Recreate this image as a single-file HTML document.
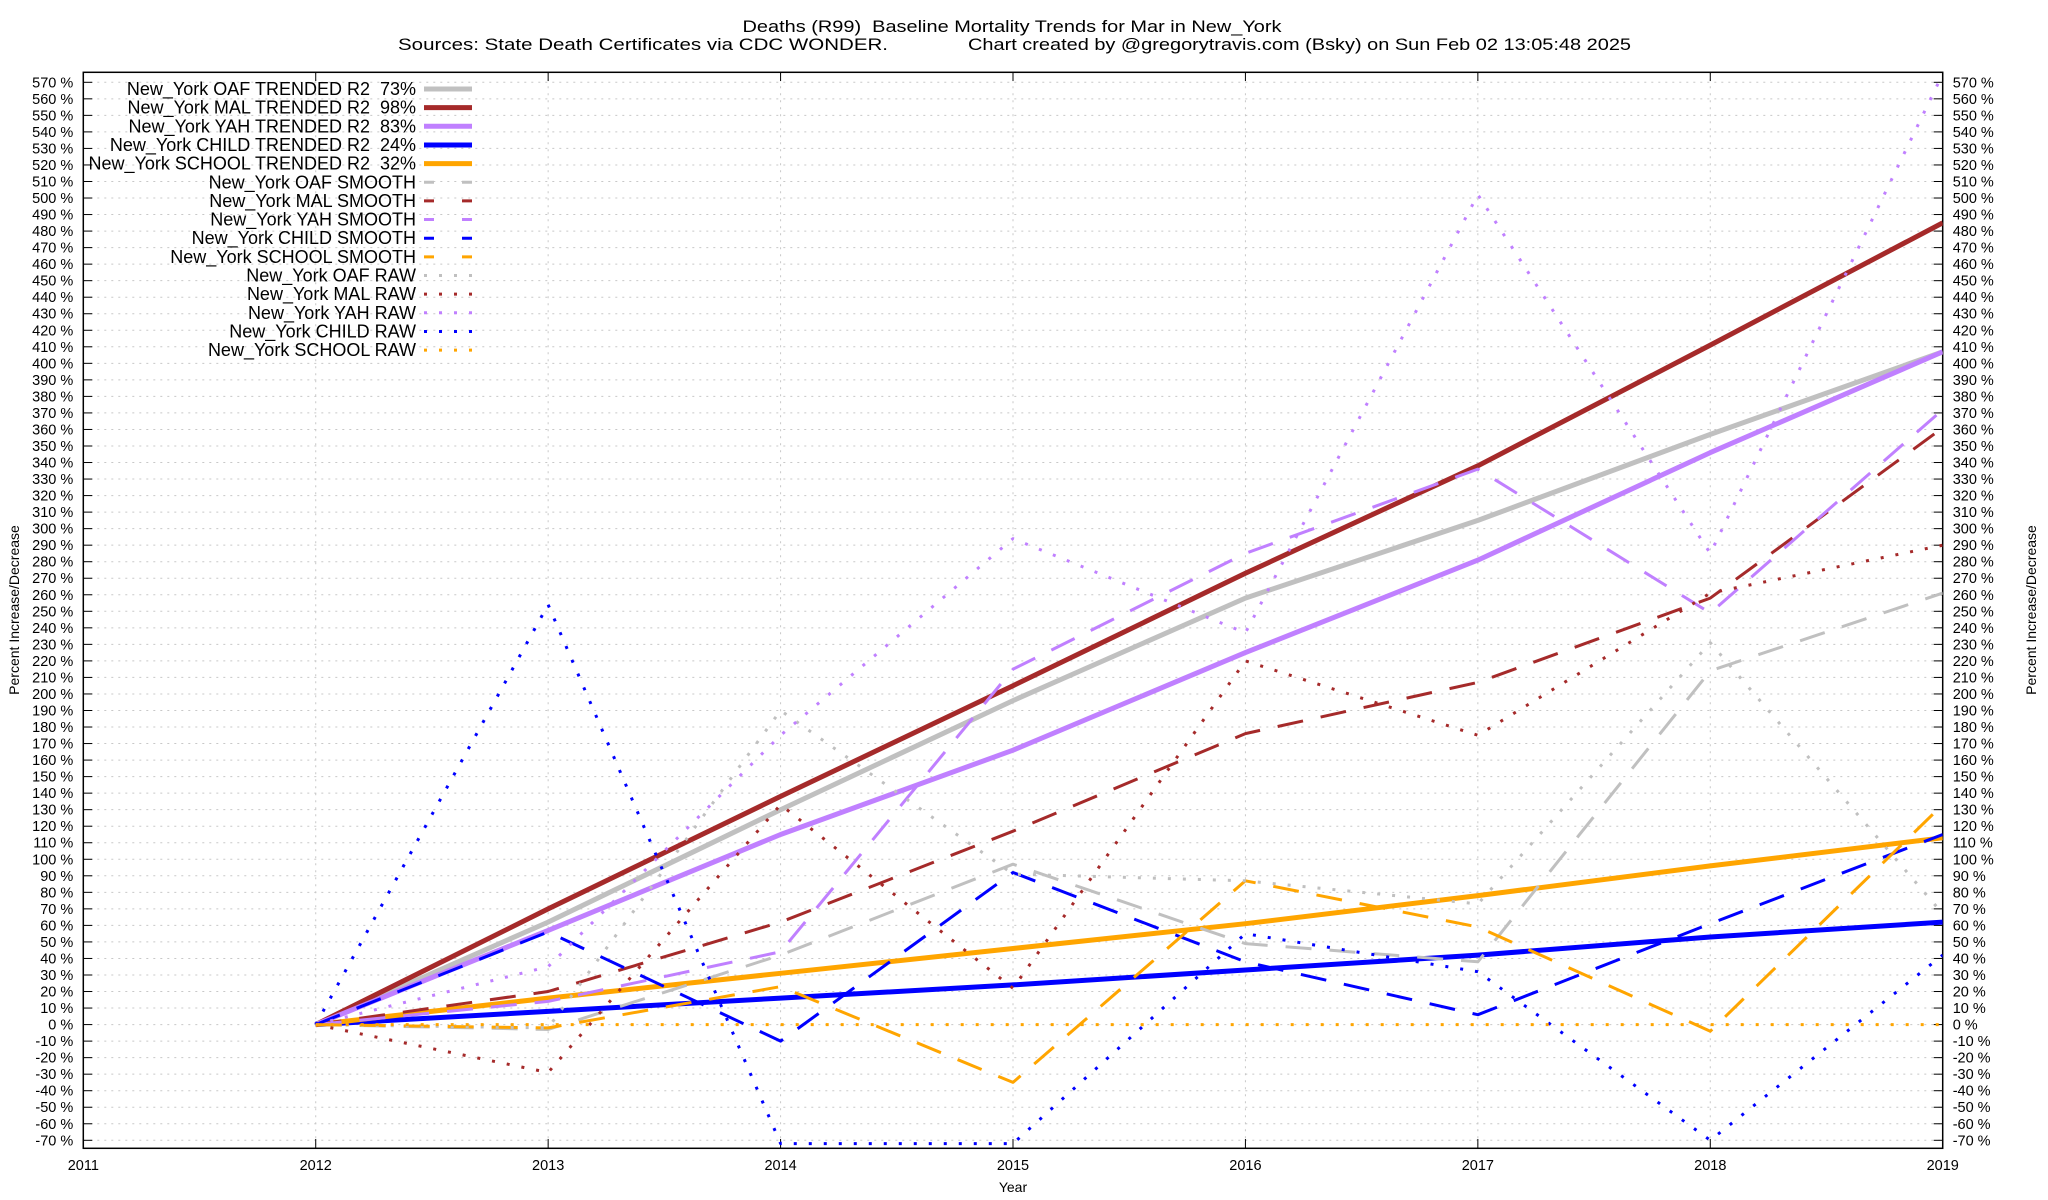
<!DOCTYPE html>
<html><head><meta charset="utf-8"><style>
html,body{margin:0;padding:0;background:#fff}
svg{display:block;font-family:"Liberation Sans",Arial,sans-serif}
</style></head><body>
<svg id="chart" width="2048" height="1200" viewBox="0 0 2048 1200" xmlns="http://www.w3.org/2000/svg">
<defs><clipPath id="plotclip"><rect x="83.3" y="72.3" width="1859.4" height="1076"/></clipPath></defs>
<text x="1012" y="32" font-size="17" text-anchor="middle" textLength="539" lengthAdjust="spacingAndGlyphs">Deaths (R99)&#160; Baseline Mortality Trends for Mar in New_York</text>
<text x="398" y="50" font-size="17" textLength="490" lengthAdjust="spacingAndGlyphs">Sources: State Death Certificates via CDC WONDER.</text>
<text x="968" y="50" font-size="17" textLength="663" lengthAdjust="spacingAndGlyphs">Chart created by @gregorytravis.com (Bsky) on Sun Feb 02 13:05:48 2025</text>
<g id="grid"></g>
<g id="axes"></g>
<g id="series" clip-path="url(#plotclip)"></g>
<g id="legend"></g>
<text x="1013" y="1192" font-size="14" text-anchor="middle">Year</text>
<text x="0" y="0" font-size="14" text-anchor="middle" transform="translate(19,610) rotate(-90)">Percent Increase/Decrease</text>
<text x="0" y="0" font-size="14" text-anchor="middle" transform="translate(2036,610) rotate(-90)">Percent Increase/Decrease</text>
</svg>
<script>
const years = [2012,2013,2014,2015,2016,2017,2018,2019];
const xTicks = [2011,2012,2013,2014,2015,2016,2017,2018,2019];
const yTicks = [-70,-60,-50,-40,-30,-20,-10,0,10,20,30,40,50,60,70,80,90,100,110,120,130,140,150,160,170,180,190,200,210,220,230,240,250,260,270,280,290,300,310,320,330,340,350,360,370,380,390,400,410,420,430,440,450,460,470,480,490,500,510,520,530,540,550,560,570];
const oafTrend = [0,62,130,196,258,305,357,407];
const malTrend = [0,70,138,205,273,338,411,485];
const yahTrend = [0,57,115,166,225,281,346,407];
const childTrend = [0,8,16,24,33,42,53,62];
const schoolTrend = [0,16,31,46,61,78,96,113];
const oafSmooth = [0,-3,42,97,49,38,214,261];
const malSmooth = [0,20,62,117,176,207,258,361];
const yahSmooth = [0,14,44,215,285,336,249,372];
const childSmooth = [0,56,-10,92,38,6,61,115];
const schoolSmooth = [0,-2,23,-35,87,59,-4,133];
const oafRaw = [0,-2,190,91,87,73,231,67];
const malRaw = [0,-29,133,22,220,175,261,290];
const yahRaw = [0,35,175,294,237,502,285,575];
const childRaw = [0,254,-72,-72,55,32,-70,42];
const schoolRaw = [0,0,0,0,0,0,0,0];

const X0=83.3,X1=1942.7,Y570=82.3,YM70=1140.3;
function xs(v){return X0+(v-2011)*(X1-X0)/8;}
function ys(v){return YM70-(v+70)*(YM70-Y570)/640;}
const NS='http://www.w3.org/2000/svg';
function mk(tag,attrs,parent){const e=document.createElementNS(NS,tag);for(const k in attrs)e.setAttribute(k,attrs[k]);parent.appendChild(e);return e;}
const grid=document.getElementById('grid'),axes=document.getElementById('axes'),ser=document.getElementById('series'),leg=document.getElementById('legend');

yTicks.forEach(v=>{
  const y=ys(v);
  const g=mk('line',{x1:X0,x2:X1,y1:y,y2:y,stroke:'#c8c8c8','stroke-width':1,'stroke-dasharray':'2 5'},grid);
  
  
  mk('line',{x1:X0,x2:X0+9,y1:y,y2:y,stroke:'#000','stroke-width':1},axes);
  mk('line',{x1:X1-9,x2:X1,y1:y,y2:y,stroke:'#000','stroke-width':1},axes);
  const t=mk('text',{x:X0-10,y:y+5,'font-size':14.5,'text-anchor':'end'},axes);
  t.textContent=v+' %';
  
  
  const t2=mk('text',{x:X1+10,y:y+5,'font-size':14.5,'text-anchor':'start'},axes);
  t2.textContent=v+' %';
  
  
});
xTicks.forEach(v=>{
  const x=xs(v);
  const g=mk('line',{x1:x,x2:x,y1:72.3,y2:1148.3,stroke:'#c8c8c8','stroke-width':1,'stroke-dasharray':'2 5'},grid);
  
  
  mk('line',{x1:x,x2:x,y1:1148.3,y2:1139,stroke:'#000','stroke-width':1},axes);
  mk('line',{x1:x,x2:x,y1:72.3,y2:81,stroke:'#000','stroke-width':1},axes);
  const t=mk('text',{x:x,y:1170,'font-size':14.5,'text-anchor':'middle'},axes);
  t.textContent=v;
  
  
});
const frame=mk('rect',{x:X0,y:72.3,width:X1-X0,height:1076,fill:'none',stroke:'#000','stroke-width':1.5},axes);



const C={OAF:'#c0c0c0',MAL:'#a52a2a',YAH:'#c080ff',CHILD:'#0000ff',SCHOOL:'#ffa500'};
const styles={trend:{w:5,d:null},smooth:{w:3,d:'26 18'},raw:{w:3,d:'3 12'}};
const seriesList=[
 ['New_York OAF TRENDED R2\u00a0\u00a073%',oafTrend,'OAF','trend','oaf-trended-line'],
 ['New_York MAL TRENDED R2\u00a0\u00a098%',malTrend,'MAL','trend','mal-trended-line'],
 ['New_York YAH TRENDED R2\u00a0\u00a083%',yahTrend,'YAH','trend','yah-trended-line'],
 ['New_York CHILD TRENDED R2\u00a0\u00a024%',childTrend,'CHILD','trend','child-trended-line'],
 ['New_York SCHOOL TRENDED R2\u00a0\u00a032%',schoolTrend,'SCHOOL','trend','school-trended-line'],
 ['New_York OAF SMOOTH',oafSmooth,'OAF','smooth','oaf-smooth-line'],
 ['New_York MAL SMOOTH',malSmooth,'MAL','smooth','mal-smooth-line'],
 ['New_York YAH SMOOTH',yahSmooth,'YAH','smooth','yah-smooth-line'],
 ['New_York CHILD SMOOTH',childSmooth,'CHILD','smooth','child-smooth-line'],
 ['New_York SCHOOL SMOOTH',schoolSmooth,'SCHOOL','smooth','school-smooth-line'],
 ['New_York OAF RAW',oafRaw,'OAF','raw','oaf-raw-line'],
 ['New_York MAL RAW',malRaw,'MAL','raw','mal-raw-line'],
 ['New_York YAH RAW',yahRaw,'YAH','raw','yah-raw-line'],
 ['New_York CHILD RAW',childRaw,'CHILD','raw','child-raw-line'],
 ['New_York SCHOOL RAW',schoolRaw,'SCHOOL','raw','school-raw-line']
];
seriesList.forEach((s,i)=>{
  const st=styles[s[3]];
  const pts=s[1].map((v,j)=>xs(years[j]).toFixed(1)+','+ys(v).toFixed(1)).join(' ');
  const a={points:pts,fill:'none',stroke:C[s[2]],'stroke-width':st.w,'stroke-linejoin':'round'};
  if(st.d)a['stroke-dasharray']=st.d;
  const p=mk('polyline',a,ser);
  
  
  const ly=89+i*18.65;
  const t=mk('text',{x:416,y:ly+6,'font-size':18,'text-anchor':'end'},leg);
  t.textContent=s[0];
  
  
  const la={x1:424,x2:472,y1:ly,y2:ly,stroke:C[s[2]],'stroke-width':st.w};
  if(st.d)la['stroke-dasharray']=s[3]==='smooth'?'10 28':'3 12';
  const l=mk('line',la,leg);
  
  
});
</script>
</body></html>
